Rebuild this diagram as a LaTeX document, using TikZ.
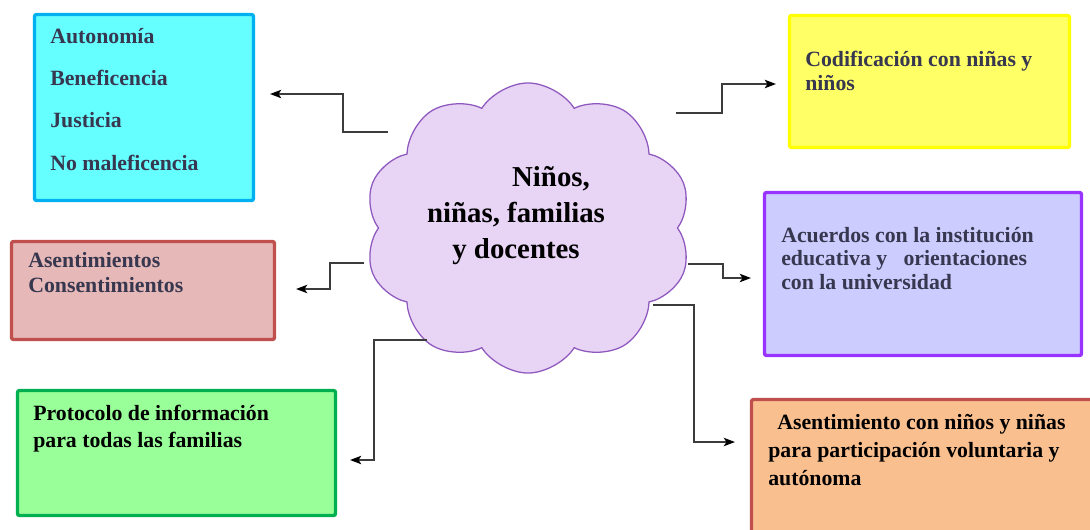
\documentclass[tikz,border=0pt]{standalone}
\usepackage{fontspec}
\setmainfont{Liberation Serif}
\usetikzlibrary{shapes.symbols,calc,arrows.meta}
\definecolor{ink}{RGB}{55,55,80}
\definecolor{linkgray}{RGB}{60,60,60}
\definecolor{cloudfill}{RGB}{232,212,245}
\definecolor{cloudline}{RGB}{142,88,190}
\begin{document}
\begin{tikzpicture}[x=0.025cm, y=-0.025cm,
        box/.style={draw, line width=2.4pt, rounded corners=1.5pt, inner sep=0, outer sep=0},
        txt/.style={anchor=base west, align=left, inner sep=0, text=ink, font=\fontsize{15.5}{#1}\selectfont\bfseries},
        arrow/.style={-{Stealth[length=8pt, width=6pt, inset=2pt, color=black]}, line width=1.2pt, draw=linkgray}
    ]
        \useasboundingbox (0,0) rectangle (1090,529);

        \node[cloud, cloud puffs=10, cloud puff arc=115, cloud ignores aspect, minimum width=8.175cm, minimum height=7.25cm, draw=cloudline, fill=cloudfill, line width=0.9pt, inner sep=0] (cloud) at (528,228) {};
        \node[anchor=base, align=center, inner sep=0, font=\fontsize{20.5}{25.3}\selectfont\bfseries] (ctxt) at (516,258) {\hspace*{1.75cm}Niños,\\niñas, familias\\y docentes};

        \node[box, draw={rgb,255:red,0;green,176;blue,240}, fill={rgb,255:red,102;green,255;blue,255}, minimum width=5.475cm, minimum height=4.65cm] (auto) at (144,107.5) {};
        \node[box, draw={rgb,255:red,192;green,80;blue,77}, fill={rgb,255:red,230;green,184;blue,183}, minimum width=6.575cm, minimum height=2.45cm] (asent) at (143,290.5) {};
        \node[box, draw={rgb,255:red,0;green,176;blue,80}, fill={rgb,255:red,153;green,255;blue,153}, minimum width=7.95cm, minimum height=3.125cm] (proto) at (176.5,453) {};
        \node[box, draw={rgb,255:red,255;green,255;blue,0}, fill={rgb,255:red,255;green,255;blue,102}, minimum width=7cm, minimum height=3.3cm] (codif) at (929.5,81.5) {};
        \node[box, draw={rgb,255:red,153;green,51;blue,255}, fill={rgb,255:red,204;green,204;blue,255}, minimum width=7.925cm, minimum height=4.075cm] (acuer) at (923,274) {};
        \node[box, draw={rgb,255:red,192;green,80;blue,77}, fill={rgb,255:red,250;green,191;blue,143}, minimum width=8.9625cm, minimum height=3.6375cm] (volun) at (930.75,472.25) {};

        \node[txt=29.9] (autotxt) at (50,170) {Autonomía\\Beneficencia\\Justicia\\No maleficencia};
        \node[txt=17.1] (asenttxt) at (28,292) {Asentimientos\\Consentimientos};
        \node[txt=19.2, text=black] (prototxt) at (33,447) {Protocolo de información\\para todas las familias};
        \node[txt=16.4] (codiftxt) at (805,90) {Codificación con niñas y\\niños};
        \node[txt=16.4] (acuertxt) at (781,289) {Acuerdos con la institución\\educativa y\ \ \ orientaciones\\con la universidad};
        \node[txt=19.6, text=black] (voluntxt) at (768,485) {\hspace*{6.4pt}Asentimiento con niños y niñas\\para participación voluntaria y\\autónoma};

        \draw[arrow] ($(cloud)+(-140,-96)$) -- ++(-45,0) |- ($(auto.east)+(16.5,-13.5)$);
        \draw[arrow] ($(cloud)+(-164,35)$) -- ++(-34,0) |- ($(asent.east)+(21.5,-1.5)$);
        \draw[arrow] ($(cloud)+(-101,112)$) -- ++(-53,0) |- ($(proto.east)+(14.5,7)$);
        \draw[arrow] ($(cloud)+(148,-115)$) -- ++(46,0) |- ($(codif.west)+(-13.5,2.5)$);
        \draw[arrow] ($(cloud)+(160,36)$) -- ++(35,0) |- ($(acuer.west)+(-13.5,4)$);
        \draw[arrow] ($(cloud)+(125,77)$) -- ++(41,0) |- ($(volun.west)+(-16.5,-30.25)$);
    \end{tikzpicture}
\end{document}
